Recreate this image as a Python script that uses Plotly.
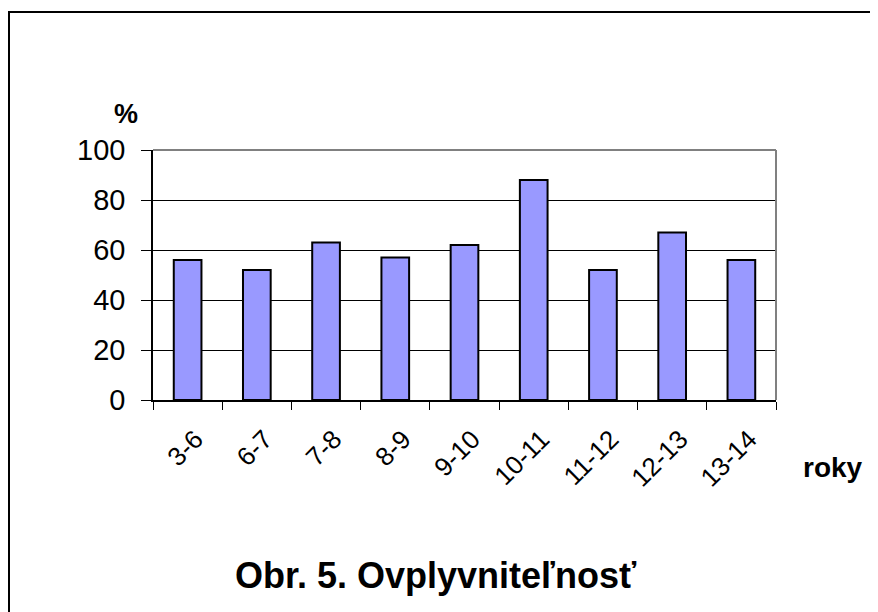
import plotly.graph_objects as go

roky = ["3-6", "6-7", "7-8", "8-9", "9-10", "10-11", "11-12", "12-13", "13-14"]
percenta = [56, 52, 63, 57, 62, 88, 52, 67, 56]

# the page body adds 8px of margin, so the figure is 8px smaller
OFF = 8
W, H = 878 - OFF, 612 - OFF
L, R, T, B = 153 - OFF, 102, 150 - OFF, 212
pw, ph = W - L - R, H - T - B


def px(x):
    return (x - OFF - L) / pw


def py(y):
    return (H - B - (y - OFF)) / ph


fig = go.Figure(go.Bar(
    x=roky, y=percenta, width=0.4,
    marker=dict(color="#9999FF", line=dict(color="black", width=2)),
))

fig.update_layout(
    width=W, height=H, margin=dict(l=L, r=R, t=T, b=B, autoexpand=False),
    paper_bgcolor="white", plot_bgcolor="white", showlegend=False,
    font=dict(family="Liberation Sans, Arial, sans-serif", color="black"),
)
fig.update_yaxes(
    range=[0, 100], dtick=20, showgrid=True, gridcolor="black", gridwidth=1,
    showline=True, linecolor="black", linewidth=1.5, ticks="outside",
    ticklen=10, tickcolor="black", tickfont=dict(size=29), zeroline=False,
    ticklabelstandoff=10, automargin=False,
)
fig.update_xaxes(
    type="category", showline=True, linecolor="black", linewidth=1.5,
    ticks="outside", tickson="boundaries", ticklen=8, tickcolor="black",
    tickangle=-45, tickfont=dict(size=26), showgrid=False,
    ticklabelstandoff=12, ticklabelshift=8, automargin=False,
)

# grey frame of the plot area (top and right)
fig.add_shape(type="line", xref="paper", yref="paper", x0=0, x1=1, y0=1, y1=1,
              line=dict(color="#808080", width=2))
fig.add_shape(type="line", xref="paper", yref="paper", x0=1, x1=1, y0=0, y1=1,
              line=dict(color="#808080", width=2))
# outer border
fig.add_shape(type="rect", xref="paper", yref="paper",
              x0=px(9), x1=px(900), y0=py(12), y1=py(640),
              line=dict(color="black", width=2))

texty = [("<b>%</b>", 126, 114, 27),
         ("<b>roky</b>", 833, 467, 28),
         ("<b>Obr. 5. Ovplyvniteľnosť</b>", 436, 575, 36)]
for t, x, y, s in texty:
    fig.add_annotation(text=t, xref="paper", yref="paper", x=px(x), y=py(y),
                       xanchor="center", yanchor="middle", showarrow=False,
                       font=dict(size=s))

fig.write_html("out.html")
